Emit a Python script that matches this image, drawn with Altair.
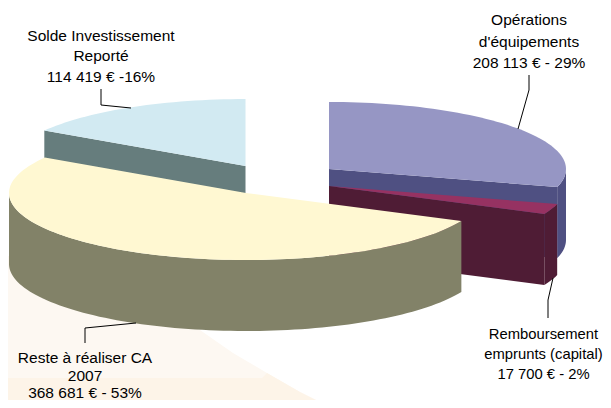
import math
import altair as alt
import pandas as pd

# Chart values
categories = ["Opérations d'équipements", "Remboursement emprunts (capital)", "Reste à réaliser CA 2007", "Solde Investissement Reporté"]
amounts = [208113, 17700, 368681, 114419]
label_lines = [
    ["Opérations", "d'équipements", "208 113 € - 29%"],
    ["Remboursement", "emprunts (capital)", "17 700 € - 2%"],
    ["Reste à réaliser CA", "2007", "368 681 € - 53%"],
    ["Solde Investissement", "Reporté", "114 419 € -16%"],
]

# Colours of the slices
top_colors = ["#9696c4", "#963262", "#fff8d2", "#d2eaf2"]
side_colors = ["#4f5082", "#4f1c35", "#828268", "#667d7d"]

# Layout of the exploded 3D pie (pixel space of the picture)
centers = [(329, 169), (329, 186), (246, 193), (245.5, 166)]
RX, RY, DEPTH = 237, 67, 71
label_anchor = [(529, [20, 42, 63]), (543.5, [335, 355, 375]), (85, [358, 376, 393]), (101, [36, 56, 77])]
label_size = [15.5, 14.8, 15.5, 15.5]
leaders = [
    [(529, 75), (529, 90), (518, 129)],
    [(553, 278), (548, 300), (548, 318)],
    [(85, 343), (85, 328), (136, 323)],
    [(101, 89), (101, 105), (131, 108)],
]
bg_regions = [
    ("#fdf8f2", [(8, 256), (30, 260), (200, 330), (233, 353), (267, 373), (300, 392), (316, 400), (8, 400)]),
    ("#fdf4e8", [(8, 378), (262, 378), (267, 373), (300, 392), (316, 400), (8, 400)]),
]

total = sum(amounts)
spans = []
start = 0.0
for v in amounts:
    spans.append((start, start + v / total * 2 * math.pi))
    start += v / total * 2 * math.pi


def pt(c, a, dz=0.0):
    return (c[0] + RX * math.sin(a), c[1] - RY * math.cos(a) + dz)


def arc(c, a0, a1, dz=0.0):
    n = max(2, int(abs(a1 - a0) / 0.03))
    return [pt(c, a0 + (a1 - a0) * i / n, dz) for i in range(n + 1)]


rows = []
pid = [0]


def poly(points, fill):
    for k, (x, y) in enumerate(points):
        rows.append({"pid": pid[0], "k": k, "x": x, "y": y, "fill": fill})
    pid[0] += 1


for col, pts in bg_regions:
    poly(pts, col)


def slice3d(i):
    c = centers[i]
    a0, a1 = spans[i]
    side, top = side_colors[i], top_colors[i]
    # cut faces seen from the front
    if i in (0, 1):
        e = pt(c, a1)
        poly([c, e, (e[0], e[1] + DEPTH), (c[0], c[1] + DEPTH)], side)
    if i == 3:
        s = pt(c, a0)
        poly([c, s, (s[0], s[1] + DEPTH), (c[0], c[1] + DEPTH)], side)
    # outer wall
    lo, hi = a0, a1
    hi = min(hi, 3 * math.pi / 2)
    lo = max(lo, math.pi / 2 - 0.0)
    if i == 0:
        lo, hi = math.pi / 2, a1
    if i == 1:
        lo, hi = a0, a1
    if i != 3:
        poly(arc(c, lo, hi) + arc(c, hi, lo, DEPTH), side)
    poly([c] + arc(c, a0, a1), top)


for i in [3, 0, 1, 2]:
    slice3d(i)

polys = pd.DataFrame(rows)

x_scale = alt.Scale(domain=[8, 603], range=[0, 595], nice=False, zero=False)
y_scale = alt.Scale(domain=[8, 400], range=[0, 392], nice=False, zero=False)

faces = alt.Chart(polys).mark_line(filled=True, strokeWidth=0, clip=True).encode(
    x=alt.X("x:Q", scale=x_scale, axis=None),
    y=alt.Y("y:Q", scale=y_scale, axis=None),
    detail="pid:N",
    order="k:Q",
    color=alt.Color("fill:N", scale=None),
)

lead_rows = [
    {"lid": i, "k": k, "x": p[0], "y": p[1]}
    for i, line in enumerate(leaders)
    for k, p in enumerate(line)
]
lead = alt.Chart(pd.DataFrame(lead_rows)).mark_line(color="#000000", strokeWidth=1).encode(
    x=alt.X("x:Q", scale=x_scale, axis=None),
    y=alt.Y("y:Q", scale=y_scale, axis=None),
    detail="lid:N",
    order="k:Q",
)

text_rows = [
    {"x": label_anchor[i][0], "y": label_anchor[i][1][j], "t": line, "s": label_size[i]}
    for i, lines in enumerate(label_lines)
    for j, line in enumerate(lines)
]
labels = alt.Chart(pd.DataFrame(text_rows)).mark_text(
    font="Liberation Sans", color="#000000", align="center", baseline="middle"
).encode(
    x=alt.X("x:Q", scale=x_scale, axis=None),
    y=alt.Y("y:Q", scale=y_scale, axis=None),
    size=alt.Size("s:Q", scale=None),
    text="t:N",
)

chart = alt.layer(faces, lead, labels).properties(
    width=595, height=392, padding=0, autosize=alt.AutoSizeParams(type="none")
).configure_view(stroke=None)

chart.save("out.html", embed_options={"renderer": "svg", "actions": False})
